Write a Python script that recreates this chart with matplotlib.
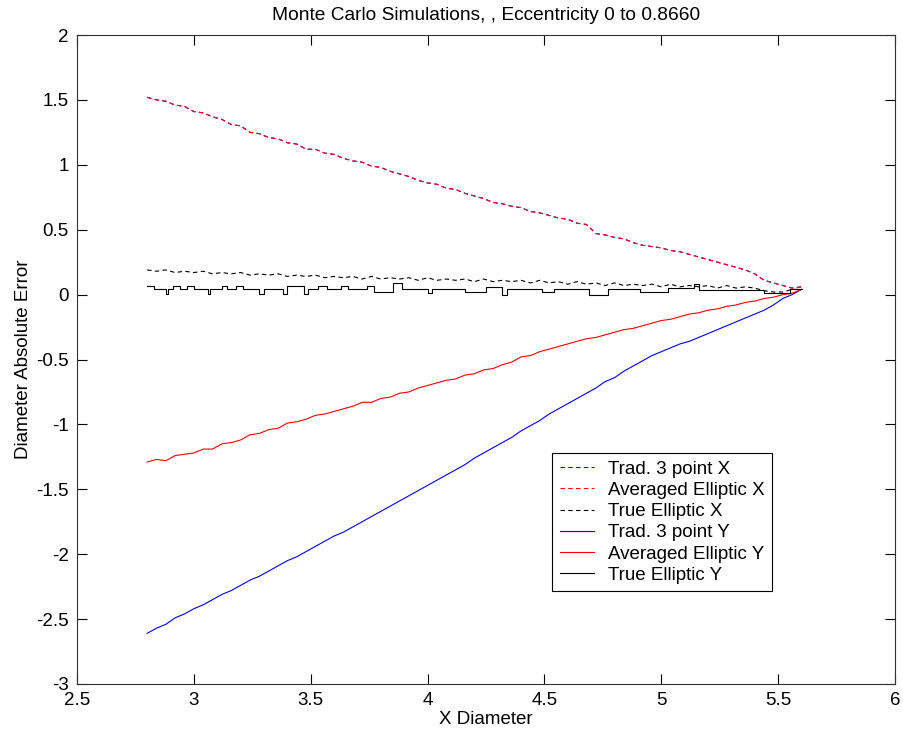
import matplotlib
matplotlib.use("Agg")
import matplotlib.pyplot as plt
from matplotlib import font_manager

# ---- data -------------------------------------------------------------
x_diam = [2.80, 2.84, 2.88, 2.92, 2.96, 3.00, 3.04, 3.08, 3.12, 3.16,
          3.20, 3.24, 3.28, 3.32, 3.36, 3.40, 3.44, 3.48, 3.52, 3.56,
          3.60, 3.64, 3.68, 3.72, 3.76, 3.80, 3.84, 3.88, 3.92, 3.96,
          4.00, 4.04, 4.08, 4.12, 4.16, 4.20, 4.24, 4.28, 4.32, 4.36,
          4.40, 4.44, 4.48, 4.52, 4.56, 4.60, 4.64, 4.68, 4.72, 4.76,
          4.80, 4.84, 4.88, 4.92, 4.96, 5.00, 5.04, 5.08, 5.12, 5.16,
          5.20, 5.24, 5.28, 5.32, 5.36, 5.40, 5.44, 5.48, 5.52, 5.56,
          5.60]

avg_elliptic_x = [1.52, 1.50, 1.49, 1.46, 1.45, 1.41, 1.40, 1.37, 1.35, 1.31,
                  1.30, 1.25, 1.24, 1.21, 1.20, 1.17, 1.16, 1.12, 1.12, 1.09,
                  1.08, 1.05, 1.03, 1.02, 0.99, 0.98, 0.95, 0.93, 0.91, 0.88,
                  0.86, 0.85, 0.82, 0.81, 0.78, 0.76, 0.74, 0.71, 0.70, 0.68,
                  0.67, 0.64, 0.63, 0.61, 0.59, 0.58, 0.55, 0.54, 0.47, 0.46,
                  0.44, 0.43, 0.40, 0.38, 0.37, 0.36, 0.34, 0.33, 0.31, 0.29,
                  0.27, 0.25, 0.23, 0.21, 0.19, 0.16, 0.11, 0.09, 0.07, 0.05,
                  0.06]

# traditional 3-point X estimate coincides with the averaged elliptic X
trad_3pt_x = list(avg_elliptic_x)

true_elliptic_x = [0.19, 0.18, 0.19, 0.17, 0.18, 0.17, 0.18, 0.16, 0.17, 0.16,
                   0.17, 0.15, 0.16, 0.15, 0.16, 0.14, 0.15, 0.14, 0.15, 0.13,
                   0.14, 0.13, 0.14, 0.12, 0.14, 0.12, 0.13, 0.12, 0.13, 0.11,
                   0.13, 0.11, 0.12, 0.11, 0.12, 0.10, 0.12, 0.10, 0.11, 0.10,
                   0.11, 0.09, 0.11, 0.09, 0.10, 0.08, 0.10, 0.08, 0.09, 0.07,
                   0.09, 0.07, 0.08, 0.07, 0.08, 0.06, 0.08, 0.06, 0.07, 0.06,
                   0.07, 0.05, 0.07, 0.05, 0.06, 0.05, 0.03, 0.02, 0.02, 0.04,
                   0.04]

trad_3pt_y = [-2.61, -2.57, -2.54, -2.49, -2.46, -2.42, -2.39, -2.35, -2.31, -2.28,
              -2.24, -2.20, -2.17, -2.13, -2.09, -2.05, -2.02, -1.98, -1.94, -1.90,
              -1.86, -1.83, -1.79, -1.75, -1.71, -1.67, -1.63, -1.59, -1.55, -1.51,
              -1.47, -1.43, -1.39, -1.35, -1.31, -1.26, -1.22, -1.18, -1.14, -1.10,
              -1.05, -1.01, -0.97, -0.92, -0.88, -0.84, -0.80, -0.76, -0.72, -0.67,
              -0.64, -0.59, -0.55, -0.51, -0.47, -0.44, -0.41, -0.38, -0.36, -0.33,
              -0.30, -0.27, -0.24, -0.21, -0.18, -0.15, -0.12, -0.08, -0.03, 0.00,
              0.04]

avg_elliptic_y = [-1.29, -1.27, -1.28, -1.24, -1.23, -1.22, -1.19, -1.19, -1.15, -1.14,
                  -1.12, -1.08, -1.07, -1.04, -1.03, -0.99, -0.98, -0.96, -0.93, -0.92,
                  -0.90, -0.88, -0.86, -0.83, -0.83, -0.80, -0.79, -0.76, -0.75, -0.72,
                  -0.70, -0.68, -0.66, -0.65, -0.62, -0.61, -0.58, -0.57, -0.54, -0.52,
                  -0.48, -0.47, -0.44, -0.42, -0.40, -0.38, -0.36, -0.34, -0.33, -0.31,
                  -0.29, -0.27, -0.26, -0.24, -0.22, -0.20, -0.19, -0.17, -0.15, -0.14,
                  -0.12, -0.11, -0.09, -0.08, -0.06, -0.05, -0.03, -0.02, 0.00, 0.01,
                  0.04]

# true elliptic Y error is piecewise constant: breakpoints and held levels
true_y_x = [2.80, 2.83, 2.88, 2.89, 2.91, 2.94, 2.97, 3.00, 3.06, 3.07,
            3.12, 3.14, 3.18, 3.21, 3.28, 3.30, 3.38, 3.40, 3.47, 3.49,
            3.53, 3.57, 3.63, 3.66, 3.74, 3.77, 3.85, 3.89, 4.00, 4.02,
            4.16, 4.25, 4.32, 4.34, 4.49, 4.54, 4.69, 4.77, 4.91, 5.03,
            5.14, 5.16, 5.44, 5.55, 5.60]
true_elliptic_y = [0.070, 0.044, 0.005, 0.044, 0.070, 0.044, 0.070, 0.044, 0.005, 0.044,
                   0.070, 0.044, 0.070, 0.044, 0.005, 0.044, 0.005, 0.070, 0.005, 0.044,
                   0.070, 0.044, 0.070, 0.044, 0.070, 0.023, 0.087, 0.044, 0.015, 0.040,
                   0.023, 0.060, 0.000, 0.040, 0.023, 0.045, 0.000, 0.045, 0.020, 0.050,
                   0.080, 0.035, 0.015, 0.040, 0.040]

x_ticks = [2.5, 3, 3.5, 4, 4.5, 5, 5.5, 6]
x_tick_labels = ["2.5", "3", "3.5", "4", "4.5", "5", "5.5", "6"]
y_ticks = [-3, -2.5, -2, -1.5, -1, -0.5, 0, 0.5, 1, 1.5, 2]
y_tick_labels = ["-3", "-2.5", "-2", "-1.5", "-1", "-0.5", "0", "0.5", "1", "1.5", "2"]

# ---- font ------------------------------------------------------------
available = {f.name for f in font_manager.fontManager.ttflist}
family = [n for n in ["Liberation Sans", "DejaVu Sans"] if n in available]
plt.rcParams["font.family"] = family

# ---- figure ----------------------------------------------------------
fig = plt.figure(figsize=(9.04, 7.38), dpi=100)
ax = fig.add_axes([77 / 904, 1 - 684 / 738, 818 / 904, 649 / 738])

dash = (0, (4, 3))
lw = 0.8
ax.plot(x_diam, trad_3pt_x, color="blue", lw=lw, linestyle=dash, label="Trad. 3 point X")
ax.plot(x_diam, avg_elliptic_x, color="red", lw=lw, linestyle=dash, label="Averaged Elliptic X")
ax.plot(x_diam, true_elliptic_x, color="black", lw=lw, linestyle=dash, label="True Elliptic X")
ax.plot(x_diam, trad_3pt_y, color="blue", lw=lw, label="Trad. 3 point Y")
ax.plot(x_diam, avg_elliptic_y, color="red", lw=lw, label="Averaged Elliptic Y")
ax.plot(true_y_x, true_elliptic_y, color="black", lw=lw, drawstyle="steps-post",
        label="True Elliptic Y")

ax.set_xlim(2.5, 6)
ax.set_ylim(-3, 2)
ax.set_xticks(x_ticks)
ax.set_xticklabels(x_tick_labels)
ax.set_yticks(y_ticks)
ax.set_yticklabels(y_tick_labels)
ax.tick_params(direction="in", length=7, width=0.8, top=True, right=True,
               labelsize=13.5)
ax.tick_params(axis="x", pad=6)
ax.tick_params(axis="y", pad=6)
for s in ax.spines.values():
    s.set_linewidth(0.8)
    s.set_color("#333333")

ax.set_title("Monte Carlo Simulations, , Eccentricity 0 to 0.8660", fontsize=13.8, pad=11)
ax.set_xlabel("X Diameter", fontsize=13.5, labelpad=1)
ax.set_ylabel("Diameter Absolute Error", fontsize=13.5, labelpad=3)

leg = ax.legend(loc="upper left", bbox_to_anchor=(0.5807, 0.356), fontsize=13.5,
                frameon=True, fancybox=False, edgecolor="black", framealpha=1,
                handlelength=1.85, handletextpad=0.75, labelspacing=0.22,
                borderpad=0.4, borderaxespad=0)
leg.get_frame().set_linewidth(0.8)

fig.savefig("out.png", dpi=100)
